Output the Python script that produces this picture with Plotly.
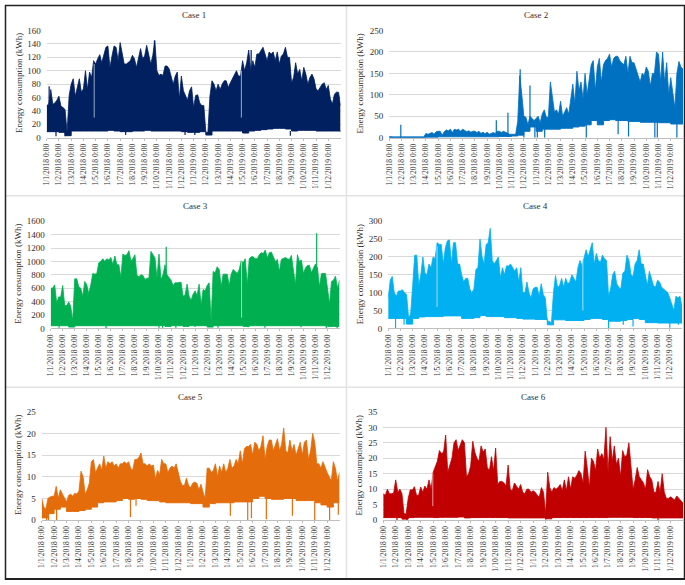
import plotly.graph_objects as go

MONTHS = [f"1/{m}/{y} 0:00" for y in (2018, 2019) for m in range(1, 13)]
TITLES = ["Case 1", "Case 2", "Case 3", "Case 4", "Case 5", "Case 6"]
COLORS = ["#002060", "#0070C0", "#00B050", "#00B0F0", "#E46C0A", "#C00000"]
TINTS = ["#9AA8C4", "#9CC8E8", "#9FE0BC", "#A6E2FA", "#F5C9A5", "#E8A0A0"]
YMAX = [160, 250, 1600, 300, 25, 35]
YSTEP = [20, 50, 200, 50, 5, 5]

# upper envelope, six readings per month (one row per month), plus the closing value
case1_up = [48,50,72,50,52,56, 62,47,45,42,8,63, 80,88,62,75,88,68, 73,100,72,98,90,115,
            110,118,124,112,122,135, 137,105,122,137,135,115, 142,125,110,110,113,115, 123,118,105,120,133,118,
            122,138,125,110,123,145, 100,93,95,93,107,107, 103,92,80,92,98,58, 92,70,62,56,70,76,
            45,63,64,52,48,48, 8,8,62,85,80,70, 80,72,80,85,85,75, 82,88,92,100,92,92,
            115,100,112,131,100,115, 105,125,125,130,135,125, 115,128,125,128,115,128, 110,122,125,135,120,120,
            82,90,112,95,102,85, 105,95,80,90,95,88, 73,70,75,80,82,72, 78,58,50,65,68,68, 48]
case2_up = [3,2,2,2,2,2, 3,2,2,2,2,2, 2,2,2,2,3,2, 10,8,10,12,8,14,
            15,15,6,14,18,16, 20,12,20,18,20,15, 20,16,14,16,13,15, 15,12,15,10,13,9,
            13,8,11,12,10,15, 15,12,15,12,10,8, 8,8,8,38,145,100, 50,48,30,50,45,40,
            45,50,35,55,65,48, 48,130,95,60,65,55, 85,50,60,70,55,95, 125,80,155,110,130,90,
            150,100,130,170,180,110, 165,185,130,170,180,185, 195,165,185,190,190,180, 175,170,190,150,190,175,
            175,160,150,130,150,145, 165,155,120,150,150,200, 195,130,200,130,175,100, 140,100,70,150,178,165, 160]
case3_up = [600,600,650,380,470,470, 640,340,340,395,330,110, 740,740,620,600,480,700, 650,520,650,820,810,820,
            980,1000,1040,1000,1040,1020, 1060,950,1080,950,950,760, 1110,1090,1100,1160,1010,1040, 1100,790,770,800,790,730,
            750,750,1150,1100,1050,750, 1110,730,800,950,800,760, 720,640,680,680,690,690, 480,500,660,480,420,510,
            560,490,660,350,580,560, 640,680,100,850,830,920, 880,630,810,810,810,640, 810,880,850,820,880,1010,
            980,1040,650,1040,1070,1070, 1040,1040,1100,1130,1120,1170, 1050,1130,1140,1080,1000,1030, 850,1030,1050,1060,1040,1030,
            1090,900,650,1100,1000,1020, 820,900,940,940,830,900, 960,900,620,820,820,820, 600,360,700,720,780,600, 720]
case4_up = [85,135,145,100,90,105, 105,108,100,95,30,40, 120,205,205,120,150,200, 155,150,180,170,200,195,
            240,235,235,180,225,245, 248,180,240,240,180,180, 150,130,140,140,110,100, 110,165,170,250,200,180,
            235,240,280,190,180,190, 200,140,170,150,175,175, 180,170,160,170,130,170, 100,100,130,100,85,110,
            115,115,90,125,95,85, 20,20,15,100,148,115, 120,140,115,140,125,130, 150,140,130,170,190,175,
            200,220,200,220,240,180, 210,190,185,205,195,190, 90,110,150,160,125,115, 110,155,160,205,190,150,
            145,180,190,220,180,180, 150,120,160,140,120,115, 135,130,115,110,105,100, 85,70,50,90,85,90, 60]
case5_up = [5,3,2.5,5,5.3,5.5, 5.5,7.8,5,7,6,5, 4.2,5.7,6,5.5,6.2,6, 6.7,11.3,10,6,7,8.5,
            13.5,14,11,12,13,11.5, 14.8,12,13.5,13,13.5,12.5, 13,12,13,13,13.5,13, 13.5,12,11.5,14,14,14.5,
            15.5,13,13,12.5,13,12.5, 12.7,9.5,11.5,10.5,14,13, 13,11,12,12.5,12,13, 11,9,8,8,9.7,8,
            7.5,8.5,8.8,8.5,7,8.3, 6.5,5,12,12,11,11.5, 13,10,12.5,11,13,11, 12,14,12,12.5,14,13,
            16,13,16.5,17,17,17.5, 15,18,17.5,16,17,19.5, 14,17,18.5,18.5,16,17.5, 18.8,16,17.5,21.3,16,15.5,
            18.5,16,17.5,15,16.5,18, 15,18,18.5,14,16,20, 18,13,13,12,13.5,12, 11,10,9,13.5,12,9, 11]
case6_up = [8.5,8,10,8.5,8.5,8.7, 13,9,10,8.5,2,2, 7,9.8,9.7,10.8,8,8, 10.7,9,11,10,13,10,
            15.5,17,19,22.5,21.5,22, 27.5,15.5,18,20,25,26, 22.5,24,26,25,14,15, 17.5,25.5,22,20,19,24,
            22,23,17,16,20.5,16, 23.3,11.5,12.5,12.5,12,11, 17.8,10,9.5,12,11,10, 11.5,9,8.5,10,10,9,
            9.5,9,8,7.5,10.5,9, 2,15.5,10.5,9,10.5,10, 10.5,11.5,9.5,13,9.5,14, 10,14,13.5,14.5,16,15,
            12,22.3,17,10.5,20,19, 16,23,20,21.5,19.5,30, 15.5,27,19,24,18,20, 14,22.5,20.5,21,25,16,
            10,13,17,14,13,12, 10,16.3,14,13,9,9, 12.5,9,15,9,7,7, 7.5,7,6.5,7.8,7,6.5, 5.5]

# lower envelope, two readings per month, plus the closing value
case1_lo = [9,9, 8,3, 10,10, 10,10, 10,10, 11,10, 9,9, 10,10, 11,10, 10,10, 10,10, 9,8,
            8,9, 4,10, 10,10, 10,10, 7,10, 11,12, 13,14, 14,13, 10,11, 11,11, 10,10, 10,10, 9]
case2_lo = [0,0, 0,0, 0,0, 1,1, 2,2, 2,2, 2,2, 2,2, 2,2, 3,3, 4,6, 15,25,
            15,20, 20,20, 22,22, 25,27, 30,40, 30,40, 42,40, 40,38, 38,36, 36,36, 35,35, 32,32, 32]
case3_lo = [40,40, 40,20, 40,40, 40,40, 40,40, 40,40, 40,40, 40,40, 40,40, 40,30, 40,40, 30,40,
            40,40, 20,40, 40,40, 40,40, 30,40, 40,40, 40,40, 40,40, 40,40, 40,40, 40,40, 30,30, 30]
case4_lo = [28,28, 28,12, 28,32, 33,33, 33,35, 35,35, 28,28, 30,36, 33,33, 33,30, 30,28, 26,26,
            25,25, 10,24, 24,22, 22,22, 25,28, 28,25, 20,20, 22,25, 28,25, 16,16, 15,15, 15,15, 15]
case5_lo = [0.5,1.5, 2.5,3, 2,2, 2.2,2.5, 3,4, 4.2,4.2, 4.5,5, 4.8,5, 4.8,4.5, 4.5,4.2, 4,4, 4,4,
            3.8,3.8, 3,3.8, 4,4, 4,4.2, 4.2,4.2, 5,5.5, 5,4.8, 4.8,5, 5,4.5, 4.5,4.5, 4,3.5, 3,4, 4]
case6_lo = [0.8,0.8, 0.8,0.3, 0.8,0.9, 0.9,0.9, 0.8,0.9, 0.9,0.9, 1,0.7, 0.8,0.8, 0.8,0.8, 0.8,0.8, 0.7,0.7, 0.7,0.7,
            0.7,0.7, 0.4,0.8, 0.8,0.8, 0.8,0.8, 0.8,0.8, 0.8,0.8, 0.9,0.9, 0.9,0.9, 0.8,0.8, 0.8,0.7, 0.7,0.7, 0.7,0.7, 0.7]

# narrow spikes in series colour: month position, low, high
case1_sp = [(0.2,50,77),(0.76,2,10),(1.5,2,10),(6.45,4,10),(8.8,90,145),(11.3,4,10),(12.1,4,10),(16.7,100,131),(19.9,3,10)]
case2_sp = [(0.95,0,30),(8.75,2,41),(9.7,2,58),(10.7,40,160),(11.0,0,20),(11.5,30,122),(11.9,0,25),(12.1,0,25),(12.7,0,25),
            (16.1,0,40),(18.7,8,40),(19.55,3,40),(21.7,0,40),(21.9,0,40),(23.5,0,35)]
case3_sp = [(9.6,700,1220),(22.1,600,1420),(0.7,10,40),(1.9,20,40),(4.6,0,40),(9.0,10,40),(9.3,10,40),(10.4,10,40),(12.0,20,40),(13.9,10,40),
            (16.4,15,40),(17.8,10,40),(20.8,15,40),(22.9,5,40),(23.8,5,40)]
case4_sp = [(0.6,0,30),(1.3,10,30),(18.0,0,25),(19.2,10,25),(20.0,5,25),(23.0,2,15),(23.7,10,15)]
case5_sp = [(0.4,0,3),(0.55,0,3),(1.2,0,3),(7.15,0.7,5),(7.6,3.3,5),(15.2,1,4),(16.6,0,5),(16.9,0.5,5),(18.1,0.2,5),(20.2,1,5),(22.0,0,4),(23.2,0,4),(23.9,1.2,4)]
case6_sp = [(1.1,0,0.9),(1.9,0,0.9),(13.0,0.2,0.9),(22.0,0,0.9)]

# narrow pale notches: month position, low, high
case1_gap = [(3.88,30,110),(15.9,30,100)]
case2_gap = []
case3_gap = [(15.86,160,1000)]
case4_gap = [(3.99,60,230),(15.9,50,190)]
case5_gap = []
case6_gap = [(3.97,4.5,15)]

UPPER = [case1_up, case2_up, case3_up, case4_up, case5_up, case6_up]
LOWER = [case1_lo, case2_lo, case3_lo, case4_lo, case5_lo, case6_lo]
SPIKES = [case1_sp, case2_sp, case3_sp, case4_sp, case5_sp, case6_sp]
GAPS = [case1_gap, case2_gap, case3_gap, case4_gap, case5_gap, case6_gap]

W, H = 685, 585
# plot rectangles in pixels: left, right, top, bottom
RECTS = [(42,338,26,135), (387,683,26,135), (46,337,220,329), (386,682,220,329), (37,337,414,524), (381,683,414,524)]
TITLE_Y = [10, 10, 205, 205, 399, 399]
YT_X = [14, 358, 13, 357, 13, 357]

FS = "Liberation Serif"
TXT = "#2E2E2E"
fig = go.Figure()
shapes, annotations = [], []
for i in range(6):
    n = "" if i == 0 else str(i + 1)
    l, r, t, b = RECTS[i]
    up, lo = UPPER[i], LOWER[i]
    xu = [k / 6 for k in range(len(up))]
    xl = [k / 2 for k in range(len(lo))]
    ax = dict(xaxis=f"x{n}", yaxis=f"y{n}")
    fig.add_trace(go.Scatter(x=xl, y=lo, mode="lines", line=dict(color=COLORS[i], width=1, shape="hv"), showlegend=False, hoverinfo="skip", **ax))
    fig.add_trace(go.Scatter(x=xu, y=up, mode="lines", line=dict(color=COLORS[i], width=0.8), fill="tonexty", fillcolor=COLORS[i], showlegend=False, hoverinfo="skip", **ax))
    sx, sy = [], []
    for p, a, c in SPIKES[i]:
        sx += [p, p, None]; sy += [a, c, None]
    if sx:
        fig.add_trace(go.Scatter(x=sx, y=sy, mode="lines", line=dict(color=COLORS[i], width=1.2), showlegend=False, hoverinfo="skip", **ax))
    gx, gy = [], []
    for p, a, c in GAPS[i]:
        gx += [p, p, None]; gy += [a, c, None]
    if gx:
        fig.add_trace(go.Scatter(x=gx, y=gy, mode="lines", line=dict(color=TINTS[i], width=1), showlegend=False, hoverinfo="skip", **ax))
    fig.update_layout(**{
        f"xaxis{n}": dict(domain=[l / W, r / W], range=[0, 24], anchor=f"y{n}", tickmode="array",
                          tickvals=list(range(24)), ticktext=MONTHS, tickangle=-90,
                          tickfont=dict(family=FS, size=7.5, color=TXT), showgrid=False, zeroline=False,
                          showline=True, linecolor="#BFBFBF", linewidth=1, ticks="outside", ticklen=2, tickcolor="#BFBFBF"),
        f"yaxis{n}": dict(domain=[1 - b / H, 1 - t / H], range=[0, YMAX[i]], anchor=f"x{n}", dtick=YSTEP[i], tick0=0,
                          tickfont=dict(family=FS, size=9, color=TXT), showgrid=True, gridcolor="#D9D9D9", gridwidth=1,
                          zeroline=False, showline=False, ticks="", ticklabelstandoff=5),
    })
    annotations.append(dict(text=TITLES[i], x=(l + r) / 2 / W, y=1 - TITLE_Y[i] / H, xref="paper", yref="paper",
                            showarrow=False, xanchor="center", yanchor="middle", font=dict(family=FS, size=9, color=TXT)))
    annotations.append(dict(text="Energy consumption (kWh)", x=YT_X[i] / W, y=1 - ((t + b) / 2 - 1) / H, xref="paper", yref="paper",
                            showarrow=False, xanchor="center", yanchor="middle", textangle=-90, font=dict(family=FS, size=9, color=TXT)))

def line(x0, y0, x1, y1, color, width):
    return dict(type="line", xref="paper", yref="paper", x0=x0 / W, x1=x1 / W, y0=1 - y0 / H, y1=1 - y1 / H,
                line=dict(color=color, width=width))

shapes += [line(344, 1, 344, 583, "#E2E2E2", 1.5), line(1, 194, 684, 194, "#E2E2E2", 1.5), line(1, 389, 684, 389, "#E2E2E2", 1.5),
           line(0, 0.5, 685, 0.5, "#222222", 1.5), line(0.5, 0, 0.5, 585, "#222222", 1.5),
           line(684.5, 0, 684.5, 585, "#222222", 1.5), line(0, 584, 685, 584, "#222222", 2)]

fig.update_layout(width=W, height=H, autosize=False, margin=dict(l=0, r=0, t=0, b=0), paper_bgcolor="white", plot_bgcolor="white",
                  shapes=shapes, annotations=annotations, showlegend=False)
fig.write_html("out.html", config={"displayModeBar": False}, post_script="document.body.style.margin='0';document.body.style.overflow='hidden';")
